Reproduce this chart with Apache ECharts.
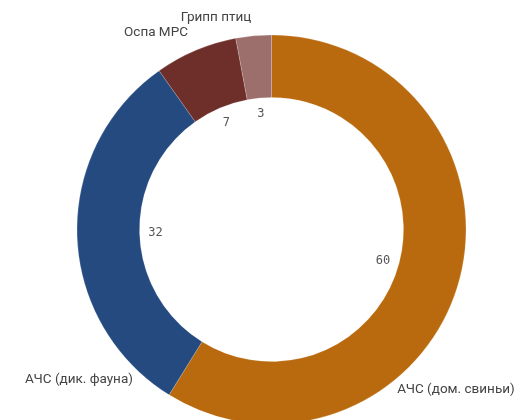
<!DOCTYPE html>
<html>
<head>
<meta charset="utf-8">
<script src="https://cdn.jsdelivr.net/npm/echarts@6/dist/echarts.min.js"></script>
<style>
  html, body { margin: 0; padding: 0; background: #fff; }
  #chart { width: 515px; height: 420px; }
</style>
</head>
<body>
<div id="chart"></div>
<script>
// данные
const categories = ['АЧС (дом. свиньи)', 'АЧС (дик. фауна)', 'Оспа МРС', 'Грипп птиц'];
const values = [60, 32, 7, 3];
const colors = ['#BA6A0E', '#244A80', '#6E2F2A', '#9C6F6C'];

// where the category names sit (label anchors, not marks)
const labelSpots = [[456, 390], [79, 380], [156, 33], [216, 18]];

const center = [271.5, 229.5];

const chart = echarts.init(document.getElementById('chart'));

const pieData = categories.map((name, i) => ({
  name: name,
  value: values[i],
  itemStyle: {color: colors[i]}
}));

chart.setOption({
  animation: false,
  series: [
    {
      name: 'ring',
      type: 'pie',
      center: center,
      radius: [132, 194.5],
      startAngle: 90,
      clockwise: true,
      silent: true,
      avoidLabelOverlap: false,
      itemStyle: {borderColor: 'rgba(255,255,255,0.35)', borderWidth: 0.5},
      label: {
        show: true,
        position: 'outside',
        formatter: '{b}',
        fontFamily: 'Roboto',
        fontSize: 13.5,
        color: '#444',
        overflow: 'none'
      },
      labelLine: {show: false},
      labelLayout: function (params) {
        const p = labelSpots[params.dataIndex];
        return {x: p[0], y: p[1], align: 'center', verticalAlign: 'middle', hideOverlap: false};
      },
      data: pieData
    },
    {
      // invisible ring that carries the numbers just inside the hole
      name: 'values',
      type: 'pie',
      center: center,
      radius: [100, 126],
      startAngle: 90,
      clockwise: true,
      silent: true,
      itemStyle: {color: 'rgba(0,0,0,0)'},
      label: {
        show: true,
        position: 'inside',
        formatter: '{c}',
        fontFamily: 'DejaVu Sans Mono',
        fontSize: 12,
        color: '#555'
      },
      labelLine: {show: false},
      data: categories.map((name, i) => ({name: name, value: values[i]}))
    }
  ]
});
</script>
</body>
</html>
